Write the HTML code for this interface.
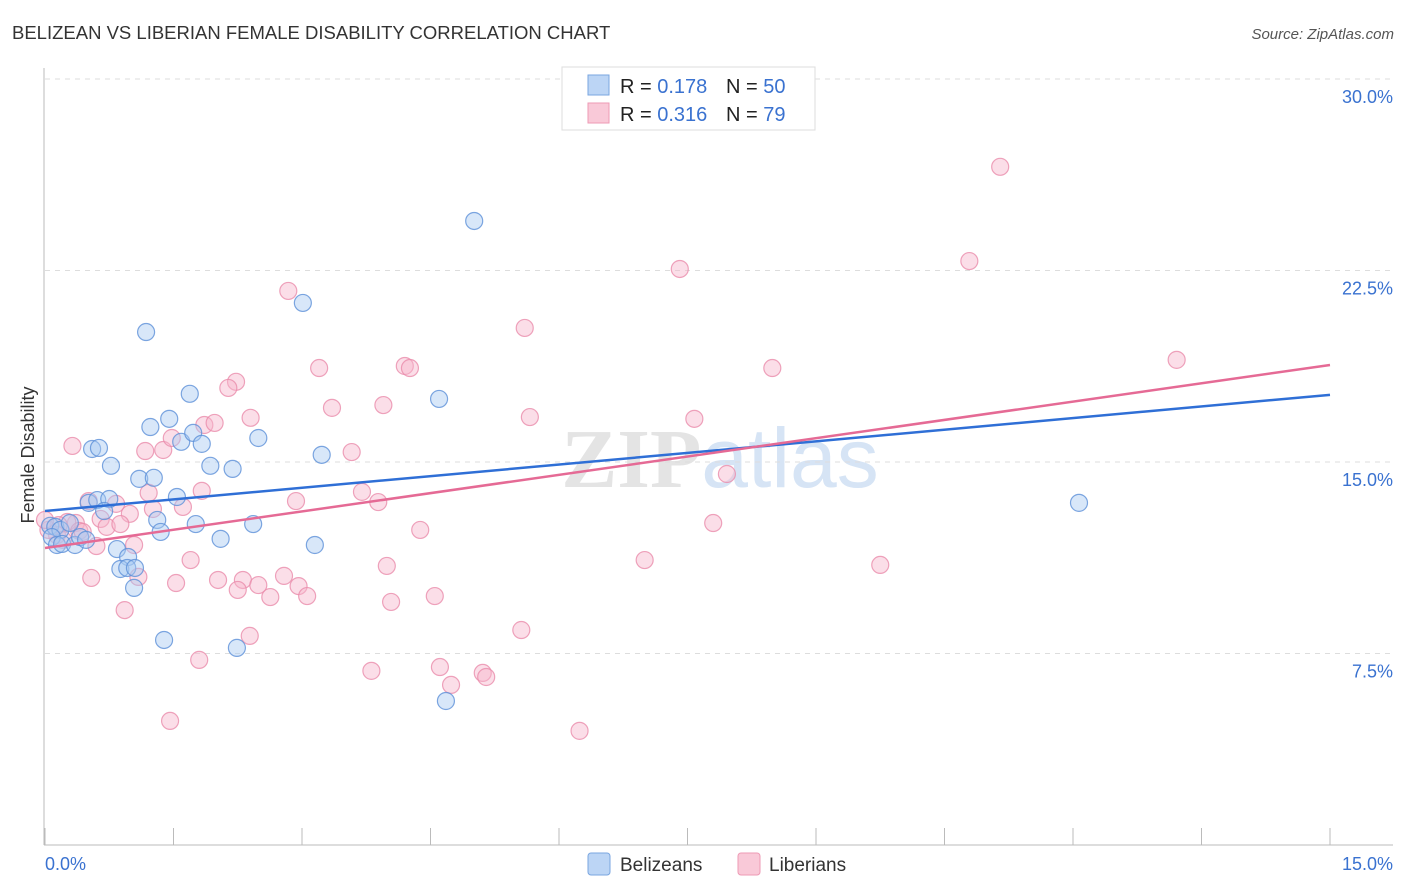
<!DOCTYPE html>
<html><head><meta charset="utf-8">
<style>
body{margin:0;background:#fff;font-family:"Liberation Sans",sans-serif;}
svg{display:block}
</style></head>
<body>
<svg id="chart" width="1406" height="892">
<text x="12" y="39" font-size="18.5" fill="#333">BELIZEAN VS LIBERIAN FEMALE DISABILITY CORRELATION CHART</text>
<text x="1394" y="39" font-size="15" fill="#555" font-style="italic" text-anchor="end">Source: ZipAtlas.com</text>
<text x="720" y="487" font-size="84" fill="#e4e4e4" text-anchor="middle" font-family="Liberation Serif,serif" font-weight="bold">ZIP<tspan fill="#d6e4f5" font-family="Liberation Sans,sans-serif" font-weight="normal">atlas</tspan></text>
<g id="grid"></g>
<g id="axes"></g>
<g id="lines"></g>
<g id="pts"></g>
<text x="34" y="455" font-size="18" fill="#333" transform="rotate(-90 34 455)" text-anchor="middle">Female Disability</text>
<g>
<rect x="562" y="67" width="253" height="63" fill="#fff" stroke="#ddd"/>
<rect x="588" y="75" width="21" height="20" fill="#bcd5f5" stroke="#7aa6e0"/>
<rect x="588" y="103" width="21" height="20" fill="#f9c9d8" stroke="#ee9ab5"/>
<text x="620" y="93" font-size="20" fill="#222">R = <tspan fill="#3a72d0">0.178</tspan><tspan x="726">N = </tspan><tspan fill="#3a72d0">50</tspan></text>
<text x="620" y="121" font-size="20" fill="#222">R = <tspan fill="#3a72d0">0.316</tspan><tspan x="726">N = </tspan><tspan fill="#3a72d0"> 79</tspan></text>
</g>
<g>
<rect x="588" y="853" width="22" height="22" rx="3" fill="#bcd5f5" stroke="#7aa6e0"/>
<text x="620" y="871" font-size="19" fill="#333">Belizeans</text>
<rect x="738" y="853" width="22" height="22" rx="3" fill="#f9c9d8" stroke="#ee9ab5"/>
<text x="769" y="871" font-size="19" fill="#333">Liberians</text>
</g>
</svg>
<script>
const yTicks=[7.5,15,22.5,30];
const yTickLabels=["7.5%","15.0%","22.5%","30.0%"];
const xTicks=[0,1.5,3,4.5,6,7.5,9,10.5,12,13.5,15];
const blueX=[5.01,3.01,1.18,1.69,4.60,1.23,1.45,1.59,1.73,1.83,2.49,0.55,0.63,0.77,1.93,2.19,3.23,1.10,1.27,12.07,0.51,0.61,0.75,0.69,1.54,1.31,1.35,1.76,2.43,0.06,0.12,0.18,0.08,0.14,0.20,0.35,0.41,0.48,0.84,0.97,0.88,0.96,1.05,1.04,2.05,3.15,1.39,2.24,4.68,0.29];
const blueY=[24.44,21.23,20.09,17.67,17.47,16.37,16.69,15.79,16.14,15.71,15.94,15.51,15.55,14.85,14.85,14.73,15.28,14.34,14.38,13.40,13.40,13.51,13.55,13.08,13.63,12.73,12.26,12.57,12.57,12.50,12.46,12.34,12.06,11.75,11.79,11.75,12.06,11.95,11.59,11.28,10.81,10.85,10.85,10.07,11.99,11.75,8.03,7.72,5.64,12.61];
const pinkX=[11.15,10.79,7.41,2.84,5.60,13.21,8.49,3.20,4.20,4.26,2.23,2.14,3.95,3.35,5.66,2.40,1.86,1.98,7.58,0.32,1.17,1.38,1.48,3.58,7.96,1.21,1.83,3.70,3.89,2.93,0.51,0.83,1.61,1.26,0.99,0.65,0.36,0.26,0.16,0.72,0.88,0.40,0.14,0.44,7.80,4.38,1.04,0.60,1.70,7.00,3.99,9.75,0.54,1.09,1.53,2.02,2.31,2.49,2.79,2.96,3.06,2.63,2.25,4.04,4.55,0.93,5.56,2.39,1.80,4.61,3.81,5.11,5.15,4.74,6.24,1.46,0.04,0.00,0.21];
const pinkY=[26.56,22.87,22.56,21.70,20.25,19.00,18.68,18.68,18.76,18.68,18.14,17.90,17.23,17.12,16.76,16.73,16.45,16.53,16.69,15.63,15.43,15.47,15.94,15.39,14.53,13.79,13.87,13.83,13.43,13.47,13.47,13.36,13.24,13.16,12.97,12.77,12.61,12.65,12.53,12.46,12.57,12.30,12.14,12.26,12.61,12.34,11.75,11.71,11.16,11.16,10.93,10.97,10.46,10.50,10.26,10.38,10.38,10.18,10.54,10.14,9.75,9.71,9.99,9.52,9.75,9.20,8.42,8.19,7.25,6.97,6.82,6.74,6.58,6.27,4.47,4.86,12.34,12.73,11.95];
const blueTrend=[13.08,17.63];
const pinkTrend=[11.63,18.80];
const X0=45,X1=1330,Y0=845,PXY=191.5/7.5;
const xs=v=>X0+(v/15)*(X1-X0);
const ys=v=>Y0-v*PXY;
const NS="http://www.w3.org/2000/svg";
function mk(tag,attrs,parent){const e=document.createElementNS(NS,tag);for(const k in attrs)e.setAttribute(k,attrs[k]);document.getElementById(parent).appendChild(e);return e;}
yTicks.forEach((t,i)=>{
  const g=mk('line',{x1:45,x2:1393,y1:ys(t),y2:ys(t),stroke:'#ddd','stroke-dasharray':'5,5'},'grid');
  
  
  const l=mk('text',{x:1393,y:ys(t)+24,'font-size':18,fill:'#3a72d0','text-anchor':'end'},'grid');
  l.textContent=yTickLabels[i];
  
  
});
const ya=mk('line',{x1:44,x2:44,y1:68,y2:845,stroke:'#bbb'},'axes');


const xa=mk('line',{x1:44,x2:1393,y1:845,y2:845,stroke:'#bbb'},'axes');


xTicks.forEach(t=>{
  const k=mk('line',{x1:xs(t),x2:xs(t),y1:828,y2:845,stroke:'#bbb'},'axes');
  
  
});
const xl0=mk('text',{x:45,y:870,'font-size':18,fill:'#3a72d0'},'axes');xl0.textContent='0.0%';


const xl1=mk('text',{x:1393,y:870,'font-size':18,fill:'#3a72d0','text-anchor':'end'},'axes');xl1.textContent='15.0%';


function pts(X,Y,fill,stroke,name){
  X.forEach((x,i)=>{
    const c=mk('circle',{cx:xs(x),cy:ys(Y[i]),r:8.5,fill:fill,'fill-opacity':0.45,stroke:stroke,'stroke-width':1.2,'stroke-opacity':0.8},'pts');
    
    
  });
}
pts(pinkX,pinkY,'#f7b6cb','#ea8cab','liberian-point');
pts(blueX,blueY,'#a9c9f2','#5d90d8','belizean-point');
const bl=mk('line',{x1:xs(0),y1:ys(blueTrend[0]),x2:xs(15),y2:ys(blueTrend[1]),stroke:'#2f6fd6','stroke-width':2.5},'lines');


const pl=mk('line',{x1:xs(0),y1:ys(pinkTrend[0]),x2:xs(15),y2:ys(pinkTrend[1]),stroke:'#e56a95','stroke-width':2.5},'lines');


document.getElementById('chart').appendChild(document.getElementById('lines'));
</script>
</body></html>
